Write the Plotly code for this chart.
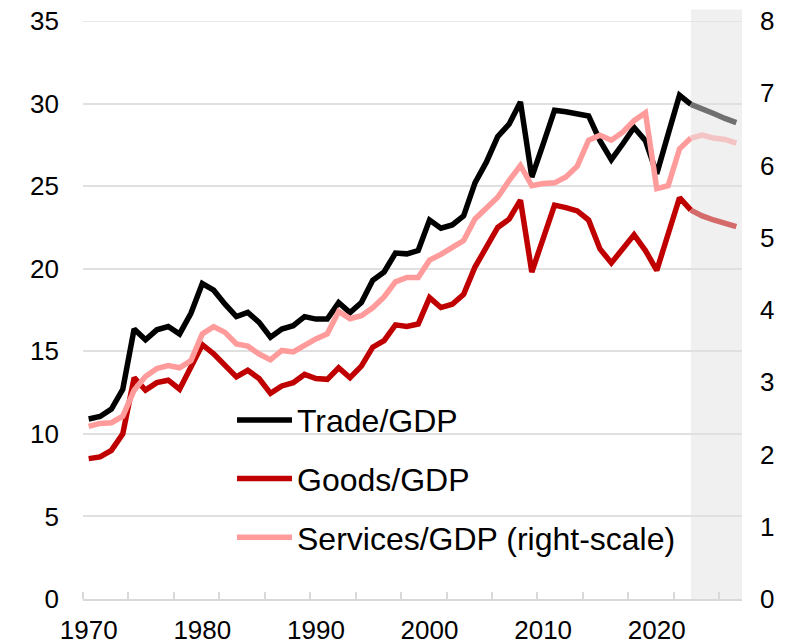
import plotly.graph_objects as go

years = list(range(1970, 2024))
trade = [10.9, 11.05, 11.5, 12.7, 16.35, 15.7, 16.3, 16.5, 16.05, 17.3,
         19.1, 18.7, 17.85, 17.1, 17.35, 16.75, 15.85, 16.35, 16.55, 17.1,
         16.95, 16.95, 17.95, 17.35, 17.95, 19.3, 19.8, 20.95, 20.9, 21.1,
         22.95, 22.45, 22.65, 23.2, 25.2, 26.45, 28.0, 28.75, 30.1, 25.55,
         27.55, 29.6, 29.5, 29.4, 29.25, 27.75, 26.6, 27.55, 28.55, 27.75,
         25.75, 28.15, 30.5, 29.95]
goods = [8.5, 8.6, 9.0, 10.0, 13.4, 12.65, 13.1, 13.25, 12.7, 14.0,
         15.4, 14.85, 14.1, 13.45, 13.85, 13.35, 12.45, 12.9, 13.1, 13.6,
         13.35, 13.3, 14.0, 13.4, 14.1, 15.25, 15.65, 16.6, 16.5, 16.65,
         18.25, 17.65, 17.85, 18.45, 20.1, 21.3, 22.5, 23.0, 24.15, 19.8,
         21.85, 23.85, 23.7, 23.5, 22.95, 21.2, 20.35, 21.2, 22.05, 21.1,
         19.9, 22.1, 24.3, 23.55]
services = [2.39, 2.43, 2.44, 2.53, 2.89, 3.08, 3.19, 3.23, 3.2, 3.3,
            3.67, 3.77, 3.69, 3.53, 3.5, 3.39, 3.31, 3.44, 3.42, 3.52,
            3.6, 3.67, 3.98, 3.88, 3.92, 4.03, 4.18, 4.39, 4.45, 4.45,
            4.69, 4.77, 4.87, 4.96, 5.26, 5.4, 5.56, 5.79, 6.0, 5.72,
            5.75, 5.76, 5.84, 5.99, 6.35, 6.42, 6.35, 6.46, 6.62, 6.73,
            5.68, 5.72, 6.23, 6.38]

proj_years = [2023, 2024, 2025, 2026, 2027]
trade_proj = [29.95, 29.7, 29.4, 29.1, 28.85]
goods_proj = [23.55, 23.2, 22.95, 22.75, 22.55]
services_proj = [6.38, 6.42, 6.38, 6.36, 6.31]

x_labels = [1970, 1980, 1990, 2000, 2010, 2020]
y_left_ticks = [0, 5, 10, 15, 20, 25, 30, 35]
y_right_ticks = [0, 1, 2, 3, 4, 5, 6, 7, 8]

FONT = "Liberation Sans, Arial, sans-serif"
LW = 5.5
GRID = "#E0E0E0"

fig = go.Figure()
fig.add_trace(go.Scatter(x=years, y=trade, mode="lines", name="Trade/GDP",
                         line=dict(color="#000000", width=LW), legendgroup="a"))
fig.add_trace(go.Scatter(x=years, y=goods, mode="lines", name="Goods/GDP",
                         line=dict(color="#C00000", width=LW), legendgroup="b"))
fig.add_trace(go.Scatter(x=years, y=services, mode="lines", name="Services/GDP (right-scale)",
                         line=dict(color="#FF9B9B", width=LW), yaxis="y2", legendgroup="c"))
fig.add_trace(go.Scatter(x=proj_years, y=trade_proj, mode="lines", showlegend=False,
                         line=dict(color="#707070", width=LW)))
fig.add_trace(go.Scatter(x=proj_years, y=goods_proj, mode="lines", showlegend=False,
                         line=dict(color="#D46A6A", width=LW)))
fig.add_trace(go.Scatter(x=proj_years, y=services_proj, mode="lines", showlegend=False,
                         line=dict(color="#F4C3C3", width=LW), yaxis="y2"))

# forecast shading
fig.add_shape(type="rect", xref="x", yref="paper", x0=2023, x1=2027.5, y0=0, y1=1.02,
              fillcolor="#F0F0F0", line=dict(width=0), layer="below")
# top gridline (plotly skips the gridline at the range edge)
fig.add_shape(type="line", xref="paper", yref="y", x0=0, x1=1, y0=y_left_ticks[-1],
              y1=y_left_ticks[-1], line=dict(color=GRID, width=1.5), layer="below")

minor_ticks = [1969.5 + 4 * k for k in range(15)]

fig.update_layout(
    width=792, height=636,
    margin=dict(l=75, r=58, t=13, b=45),
    paper_bgcolor="white", plot_bgcolor="white",
    font=dict(family=FONT, size=26, color="black"),
    xaxis=dict(range=[1969.5, 2027.5], tickvals=x_labels, ticks="",
               showline=True, linecolor="#D9D9D9", linewidth=1.5,
               showgrid=False, zeroline=False, automargin=False,
               ticklabelstandoff=7,
               minor=dict(tickvals=minor_ticks, ticks="inside", ticklen=7,
                          tickcolor="#D9D9D9", tickwidth=1.5, showgrid=False)),
    yaxis=dict(range=[0, 35], tickvals=y_left_ticks,
               showgrid=True, gridcolor=GRID, gridwidth=1.5,
               zeroline=False, showline=False, ticks="", automargin=False,
               ticklabelstandoff=23, ticklabeloverflow="allow"),
    yaxis2=dict(range=[0, 8], tickvals=y_right_ticks, overlaying="y",
                side="right", showgrid=False,
                zeroline=False, showline=False, ticks="", automargin=False,
                ticklabelstandoff=17, ticklabeloverflow="allow"),
    legend=dict(x=0.2261, y=0.357, xanchor="left", yanchor="top",
                bgcolor="rgba(0,0,0,0)", font=dict(family=FONT, size=32, color="black"),
                tracegroupgap=14, itemwidth=55),
    showlegend=True,
)

fig.write_html("out.html")
